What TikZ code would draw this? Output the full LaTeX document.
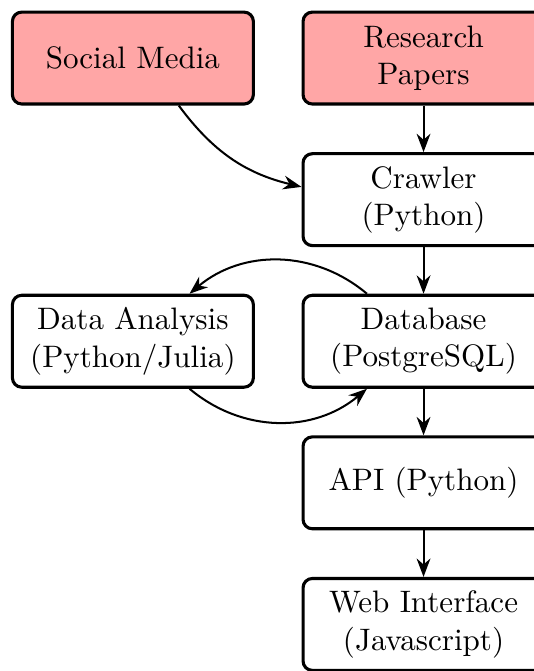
\documentclass[tikz,border=0pt]{standalone}
\usetikzlibrary{positioning,arrows.meta}

\begin{document}
\begin{tikzpicture}[>=Stealth,
	node distance=15pt and 15pt,
	box/.style={draw,line width=1pt,rounded corners=3pt,align=center,minimum width=77.6pt,minimum height=29.6pt,inner sep=2pt},
	source/.style={box,fill=red!35},
	flow/.style={->,line width=.65pt}]
	
	\useasboundingbox (-42.8pt,-197.4pt) rectangle (129.1pt,18.7pt);
	
	\node[source] (social) at (0,0) {Social Media};
	\node[source,right=of social] (papers) {Research\\Papers};
	\node[box,below=of papers] (crawler) {Crawler\\(Python)};
	\node[box,below=of crawler] (database) {Database\\(PostgreSQL)};
	\node[box,left=of database] (analysis) {Data Analysis\\(Python/Julia)};
	\node[box,below=of database] (api) {API (Python)};
	\node[box,below=of api] (web) {Web Interface\\(Javascript)};
	
	\draw[flow] (social) to[bend right=20] (crawler);
	\draw[flow] (papers) -- (crawler);
	\draw[flow] (crawler) -- (database);
	\draw[flow] (database) to[bend right=40] (analysis);
	\draw[flow] (analysis) to[bend right=40] (database);
	\draw[flow] (database) -- (api);
	\draw[flow] (api) -- (web);
	
\end{tikzpicture}
\end{document}
